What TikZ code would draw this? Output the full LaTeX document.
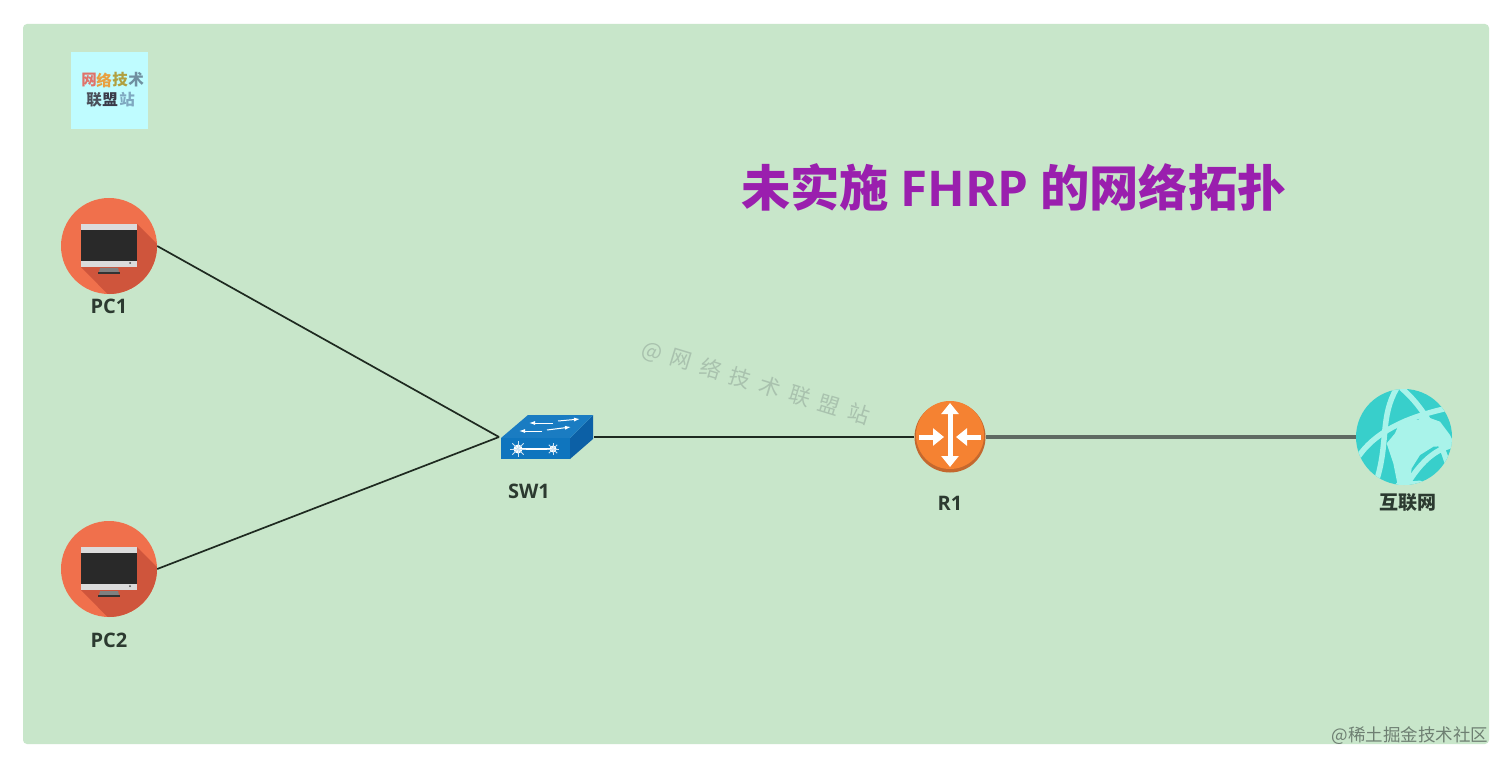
\documentclass[tikz,border=0pt]{standalone}
\usepackage{fontspec}
\newfontfamily\cjk{Noto Sans CJK SC}
\newfontfamily\lat{Open Sans}
\usetikzlibrary{arrows.meta,calc}
\definecolor{bgc}{HTML}{C8E6CA}
\definecolor{pcc}{HTML}{F0704C}
\definecolor{pcs}{HTML}{CF553C}
\definecolor{lab}{HTML}{2C3A30}
\definecolor{titlec}{HTML}{9A1FAE}
\definecolor{globec}{HTML}{38CFCB}
\definecolor{landc}{HTML}{A9F3EA}
\definecolor{wmc}{HTML}{A9C2AE}
\definecolor{footc}{HTML}{6E7F72}
\definecolor{linkc}{HTML}{1E2A20}
\definecolor{logobg}{HTML}{BFFCFF}
\definecolor{swtop}{HTML}{1A7CC2}
\definecolor{swfront}{HTML}{0F75BE}
\definecolor{swside}{HTML}{0C60A6}
\definecolor{rtop}{HTML}{F58232}
\definecolor{rrim}{HTML}{C4682E}
\definecolor{uplinkc}{HTML}{5F6A62}
\definecolor{lga}{HTML}{E0736A}
\definecolor{lgb}{HTML}{E8A040}
\definecolor{lgc}{HTML}{B0A040}
\definecolor{lgd}{HTML}{6F8FA0}
\definecolor{lge}{HTML}{4A4F5A}
\definecolor{lgf}{HTML}{3A3A48}
\definecolor{lgg}{HTML}{7FA8C0}
\tikzset{
  x=1pt,y=-1pt,
  lbl/.style={font=\lat\bfseries\fontsize{20}{22}\selectfont,text=lab,inner sep=0pt},
  cjklbl/.style={font=\cjk\bfseries\fontsize{19}{22}\selectfont,text=lab,inner sep=0pt},
  disc/.style={circle,inner sep=0pt,minimum size=#1,draw=none},
  link/.style={draw=linkc,line width=1.7pt},
  uplink/.style={draw=uplinkc,line width=3.2pt},
  logochar/.style={font=\cjk\bfseries\fontsize{15.5}{16}\selectfont,inner sep=0pt},
  whitearrow/.style={draw=white,line width=5pt,-{Triangle[length=11pt,width=17pt,fill=white]}},
  band/.style={draw=landc,line width=5.5pt,line cap=round},
  pc/.pic={
    \begin{scope}
      \clip (0,0) circle[radius=48pt];
      \fill[pcs] (28,-22) -- (88,38) -- (40,90) -- (-28,21) -- cycle;
    \end{scope}
    \fill[black!50] (-9,22) -- (9,22) -- (10,26) -- (-10,26) -- cycle;
    \fill[black!80] (-11,26) rectangle (11,28);
    \fill[black!14] (-28,-22) rectangle (28,21);
    \fill[black!84] (-28,-16) rectangle (28,15);
    \fill[black!70] (21,17) circle[radius=1pt];
  }
}
\begin{document}
\begin{tikzpicture}
\useasboundingbox (0,0) rectangle (1512,767);
\fill[white] (0,0) rectangle (1512,767);
\fill[bgc,rounded corners=4pt] (23,24) rectangle (1489,744);

% logo
\fill[logobg] (71,52) rectangle (148,129);
\node[logochar,text=lga] (l1) at (89,80) {网};
\node[logochar,text=lgb] (l2) at (104,80) {络};
\node[logochar,text=lgc] (l3) at (120,80) {技};
\node[logochar,text=lgd] (l4) at (136,80) {术};
\node[logochar,text=lge] (l5) at (94,100) {联};
\node[logochar,text=lgf] (l6) at (110,100) {盟};
\node[logochar,text=lgg] (l7) at (127,100) {站};

% title
\node[inner sep=0pt,text=titlec,font=\cjk\bfseries\fontsize{49.3}{52}\selectfont] (title) at (1014,187) {未实施 {\lat\bfseries FHRP} 的网络拓扑};

% watermark
\node[inner sep=0pt,rotate=-17,text=wmc,font=\cjk\fontsize{21.5}{24}\selectfont] (wm) at (756,383) {@\hspace{9pt}网\hspace{9.5pt}络\hspace{9.5pt}技\hspace{9.5pt}术\hspace{9.5pt}联\hspace{9.5pt}盟\hspace{9.5pt}站};

% footer
\node[inner sep=0pt,text=footc,font=\cjk\fontsize{17.5}{20}\selectfont] (foot) at (1410,736) {@稀土掘金技术社区};

% device anchors
\node[disc=96pt,fill=pcc] (pc1) at (109,246) {};
\node[disc=96pt,fill=pcc] (pc2) at (109,569) {};
\coordinate (swl) at (499,437);
\coordinate (swr) at (594,437);
\node[disc=71pt,fill=rrim] (r1) at (950,437) {};
\node[disc=96pt,fill=globec] (net) at (1404,437) {};

% links
\draw[link] (pc1.east) -- (swl);
\draw[link] (pc2.east) -- (swl);
\draw[link] (swr) -- (r1.west);
\draw[uplink] (r1.east) -- (net.west);

% PCs
\pic at (pc1) {pc};
\pic at (pc2) {pc};

% switch
\fill[swside] (570,438) -- (593,415) -- (593,439) -- (570,459) -- cycle;
\fill[swtop] (501,438) -- (528,415) -- (593,415) -- (570,438) -- cycle;
\fill[swfront] (501,438) rectangle (570,459);
\draw[white,line width=1pt,-{Latex[length=6pt,width=4pt]}] (553,423) -- (529,423);
\draw[white,line width=1pt,-{Latex[length=6pt,width=4pt]}] (558,421) -- (580,419);
\draw[white,line width=1pt,-{Latex[length=6pt,width=4pt]}] (542,431) -- (519,431);
\draw[white,line width=1pt,-{Latex[length=6pt,width=4pt]}] (547,430) -- (571,427);
\draw[white,line width=1.4pt] (518,449) -- (553,449);
\fill[white] (518,449) circle[radius=4.5pt];
\fill[white] (553,449) circle[radius=3.5pt];
\foreach \a in {0,45,...,315}{
  \draw[white!80!swfront,line width=.8pt] (518,449) -- ++(\a:8pt);
  \draw[white!80!swfront,line width=.8pt] (553,449) -- ++(\a:6pt);
}

% router
\fill[rtop] (950,435) circle[radius=34pt];
\draw[whitearrow,{Triangle[length=11pt,width=17pt,fill=white]}-{Triangle[length=11pt,width=17pt,fill=white]}] (950,403) -- (950,467);
\draw[whitearrow] (919,437) -- (944,437);
\draw[whitearrow] (981,437) -- (956,437);

% globe
\begin{scope}
  \clip (net.center) circle[radius=48pt];
  \begin{scope}[shift={(1340,380)},scale=1/3]
    \fill[landc] (180,125) -- (195,115) -- (235,120) -- (245,105) -- (300,125) -- (330,165) -- (345,197) -- (280,200) -- (240,225) -- (215,265) -- (210,300) -- (175,325) -- (160,250) -- (140,190) -- (165,160) -- cycle;
    \draw[band] (55,230) .. controls (110,150) and (210,110) .. (320,85);
    \draw[band] (170,25) .. controls (120,110) and (145,190) .. (110,300);
    \draw[band] (185,25) .. controls (250,80) and (300,170) .. (325,260);
    \draw[band] (200,315) .. controls (240,250) and (280,210) .. (340,195);
    \draw[band] (175,315) -- (240,310);
  \end{scope}
\end{scope}

% labels
\node[lbl] (pc1l) at (109,306) {PC1};
\node[lbl] (pc2l) at (109,640) {PC2};
\node[lbl] (swl1) at (529,491) {SW1};
\node[lbl] (r1l) at (950,503) {R1};
\node[cjklbl] (netl) at (1408,503) {互联网};
\end{tikzpicture}
\end{document}
